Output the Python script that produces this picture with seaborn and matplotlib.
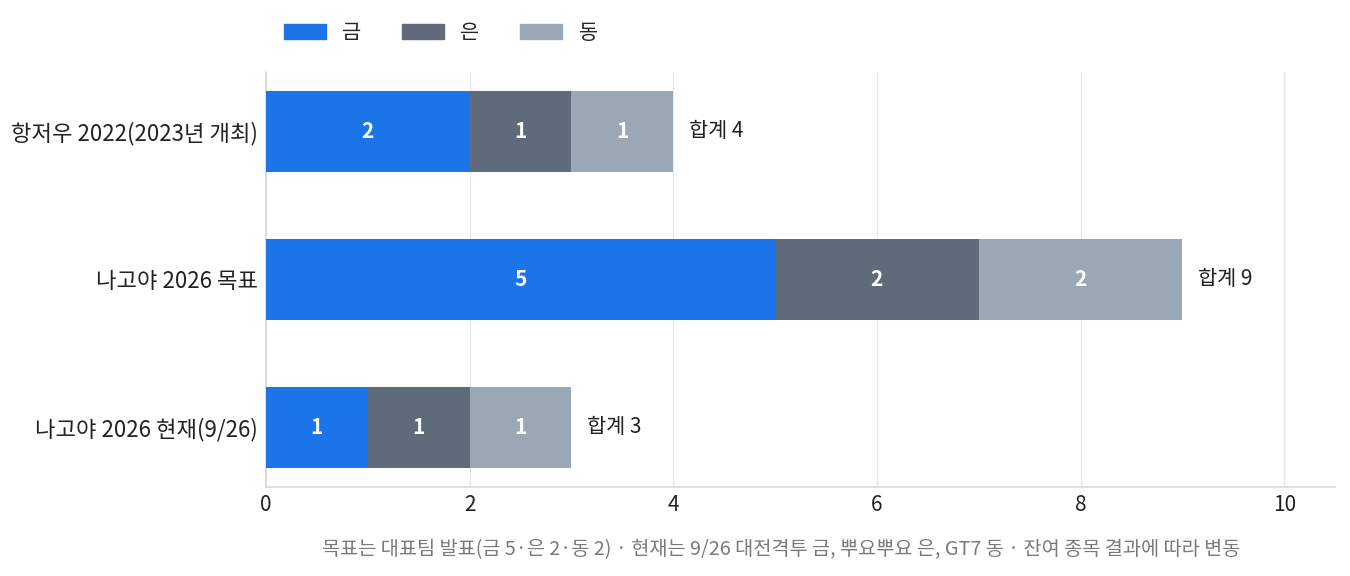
import pandas as pd
import numpy as np
import matplotlib.pyplot as plt
import seaborn as sns

sns.set_theme(style="white")
plt.rcParams['font.family'] = ['Noto Sans CJK KR', 'DejaVu Sans']

# 데이터
categories = ['항저우 2022(2023년 개최)', '나고야 2026 목표', '나고야 2026 현재(9/26)']
gold = [2, 5, 1]
silver = [1, 2, 1]
bronze = [1, 2, 1]
medal_names = ['금', '은', '동']
colors = ['#1b74e8', '#5f6b7b', '#9aa7b4']
footnote = '목표는 대표팀 발표(금 5·은 2·동 2) · 현재는 9/26 대전격투 금, 뿌요뿌요 은, GT7 동 · 잔여 종목 결과에 따라 변동'

df = pd.DataFrame({'구분': categories, '금': gold, '은': silver, '동': bronze})
df['금+은'] = df['금'] + df['은']
df['합계'] = df['금+은'] + df['동']

fig = plt.figure(figsize=(13.5, 5.76), dpi=100)
ax = fig.add_axes([0.197, 0.155, 0.792, 0.72])

# 누적 막대: 합계 -> 금+은 -> 금 순서로 겹쳐 그림
for col, c in [('합계', colors[2]), ('금+은', colors[1]), ('금', colors[0])]:
    sns.barplot(data=df, y='구분', x=col, color=c, orient='h', width=0.55,
                saturation=1, ax=ax, zorder=3, linewidth=0)

# 막대 안 숫자
for i in range(len(categories)):
    starts = [0, gold[i], gold[i] + silver[i]]
    for s, v in zip(starts, [gold[i], silver[i], bronze[i]]):
        ax.text(s + v / 2, i, str(v), ha='center', va='center', color='white',
                fontsize=15, fontweight='bold', zorder=4)
    ax.text(df['합계'][i] + 0.15, i, f'합계 {df["합계"][i]}', ha='left', va='center',
            color='#222222', fontsize=15)

ax.set_xlim(0, 10.5)
ax.set_ylim(2.4, -0.4)
ax.set_xticks([0, 2, 4, 6, 8, 10])
ax.set_xlabel('')
ax.set_ylabel('')
ax.tick_params(axis='both', labelsize=15, colors='#222222', length=0)
ax.tick_params(axis='x', pad=5)
ax.tick_params(axis='y', pad=6, labelsize=16)
ax.grid(axis='x', color='#e8e8e8', linewidth=1, zorder=0)
for side in ['top', 'right']:
    ax.spines[side].set_visible(False)
for side in ['left', 'bottom']:
    ax.spines[side].set_color('#d9d9d9')
    ax.spines[side].set_linewidth(1.2)

# 범례
handles = [plt.Rectangle((0, 0), 1, 1, color=c) for c in colors]
fig.legend(handles, medal_names, loc='center left', bbox_to_anchor=(0.1965, 0.943),
           ncol=3, frameon=False, fontsize=15, handlelength=2.0, handleheight=0.72,
           handletextpad=0.8, columnspacing=1.95)

fig.text(0.579, 0.045, footnote, ha='center', va='center', fontsize=14.2, color='#7a7a7a')

fig.savefig('out.png', dpi=100)
